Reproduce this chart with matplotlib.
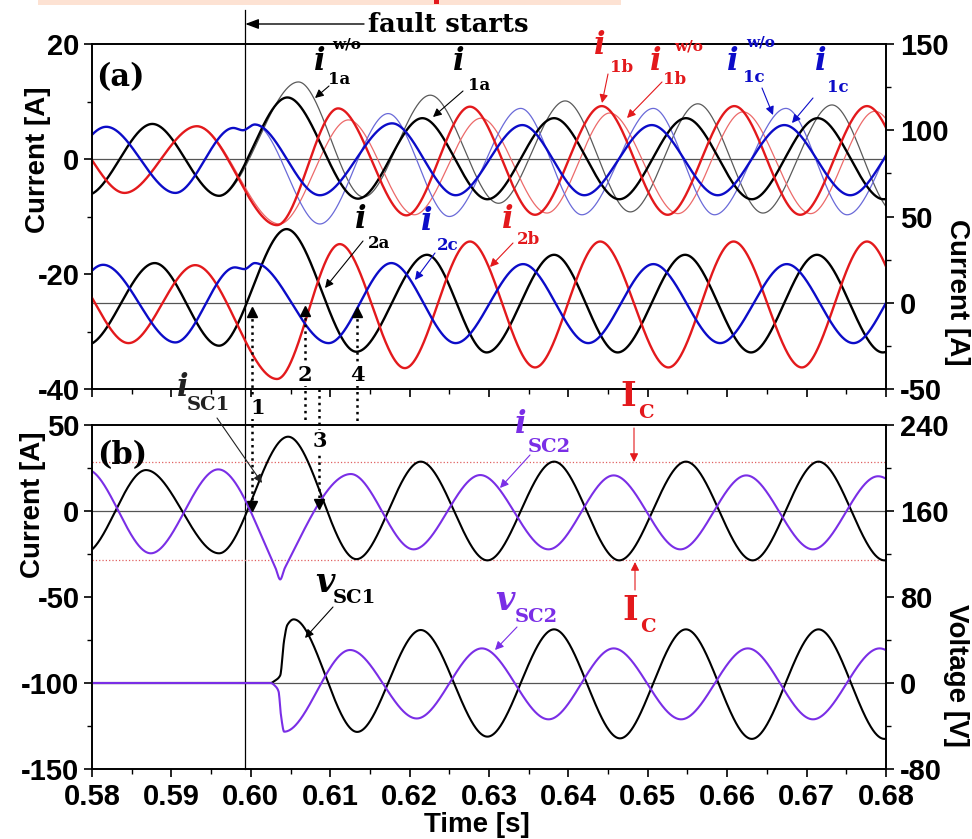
import numpy as np
import matplotlib
matplotlib.use("Agg")
import matplotlib.pyplot as plt
from matplotlib import transforms
from matplotlib.lines import Line2D
from matplotlib.patches import Rectangle, FancyArrowPatch
from matplotlib.ticker import MultipleLocator

plt.rcParams["axes.unicode_minus"] = False

# ---- waveform extrema (time [s], value) ----
# panel (a), left axis: stage-1 currents
i1a_t = [0.5793, 0.5876, 0.5960, 0.6046, 0.6135, 0.6216, 0.6298, 0.6382, 0.6464, 0.6548, 0.6631, 0.6714, 0.6797, 0.688]
i1a_v = [-6.3, 6.1, -6.4, 10.7, -6.9, 7.1, -7.0, 7.1, -7.0, 7.1, -7.0, 7.1, -7.0, 7.1]
i1a_wo_t = [0.5960, 0.6060, 0.6142, 0.6226, 0.6312, 0.6396, 0.6478, 0.6563, 0.6645, 0.6732, 0.6812]
i1a_wo_v = [-6.4, 13.4, -6.6, 11.1, -7.7, 10.1, -9.2, 9.6, -9.4, 9.4, -9.4]

i1b_t = [0.5758, 0.5841, 0.5932, 0.6033, 0.6110, 0.6196, 0.6276, 0.6358, 0.6442, 0.6525, 0.6609, 0.6692, 0.6776, 0.686]
i1b_v = [5.7, -5.9, 5.7, -11.5, 8.8, -9.8, 9.1, -9.7, 9.2, -9.7, 9.2, -9.7, 9.2, -9.7]
i1b_wo_t = [0.5932, 0.6036, 0.6123, 0.6206, 0.6290, 0.6373, 0.6452, 0.6538, 0.6620, 0.6705, 0.6786, 0.687]
i1b_wo_v = [5.7, -11.3, 6.8, -9.7, 7.1, -9.4, 8.0, -9.5, 8.2, -9.5, 8.3, -9.5]

i1c_t = [0.5735, 0.5818, 0.5905, 0.5978, 0.5990, 0.6005, 0.6087, 0.6178, 0.6258, 0.6342, 0.6420,
         0.6505, 0.6588, 0.6672, 0.6755, 0.6838]
i1c_v = [-5.9, 5.6, -5.9, 5.4, 5.0, 6.0, -6.3, 6.2, -6.3, 5.9, -6.3, 5.9, -6.3, 5.9, -6.3, 5.9]
i1c_wo_t = [0.6005, 0.6087, 0.6173, 0.6250, 0.6340, 0.6417, 0.6507, 0.6584, 0.6674, 0.6751, 0.684]
i1c_wo_v = [6.0, -11.3, 7.9, -10.0, 8.8, -9.7, 8.8, -9.7, 8.8, -9.7, 8.8]

# panel (a), right axis: stage-2 currents
i2a_t = [0.5793, 0.5879, 0.5960, 0.6045, 0.6133, 0.6222, 0.6297, 0.6382, 0.6462, 0.6547, 0.6630, 0.6713, 0.6796, 0.688]
i2a_v = [-24.5, 23.0, -24.9, 42.7, -28.4, 27.8, -28.8, 27.8, -28.8, 27.8, -28.8, 27.8, -28.8, 27.8]
i2b_t = [0.5763, 0.5846, 0.5930, 0.6033, 0.6112, 0.6194, 0.6276, 0.6358, 0.6440, 0.6526, 0.6608, 0.6694, 0.6776, 0.686]
i2b_v = [21.8, -23.4, 21.8, -44.2, 34.0, -37.9, 35.5, -37.5, 35.5, -37.5, 35.5, -37.5, 35.5, -37.5]
i2c_t = [0.5731, 0.5814, 0.5905, 0.5980, 0.5992, 0.6005, 0.6098, 0.6177, 0.6258, 0.6343, 0.6425,
         0.6507, 0.6591, 0.6675, 0.6759, 0.684]
i2c_v = [-23.0, 22.0, -23.0, 20.5, 19.5, 23.0, -23.4, 23.0, -23.4, 22.4, -23.4, 22.4, -23.4, 22.4, -23.4, 22.4]

# panel (b), left axis: supercapacitor currents
isc1_t = [0.5790, 0.5868, 0.5960, 0.6047, 0.6133, 0.6214, 0.6298, 0.6382, 0.6464, 0.6548, 0.6632, 0.6715, 0.6798, 0.688]
isc1_v = [-24.6, 23.8, -24.6, 43.2, -28.0, 28.7, -28.7, 28.7, -28.7, 28.7, -28.7, 28.7, -28.7, 28.7]
isc2_t = [0.5793, 0.5874, 0.5959, 0.6031, 0.6037, 0.6043, 0.6126, 0.6205, 0.6289, 0.6375, 0.6457,
          0.6541, 0.6624, 0.6708, 0.6790, 0.688]
isc2_v = [24.2, -24.6, 24.2, -33.0, -39.8, -33.0, 21.5, -22.3, 20.9, -22.3, 20.7, -22.3, 20.7, -22.3, 20.2, -22.3]

# panel (b), right axis: supercapacitor voltages
vsc1_t = [0.575, 0.6025, 0.6030, 0.6037, 0.6042, 0.6046, 0.6054, 0.6134, 0.6214, 0.6298, 0.6382,
          0.6465, 0.6548, 0.6631, 0.6715, 0.6798, 0.688]
vsc1_v = [0.0, 0.0, 2.0, 7.0, 40.0, 54.0, 59.2, -45.5, 49.3, -49.9, 49.9, -51.5, 49.9, -52.0, 49.9, -52.0, 50.0]
vsc2_t = [0.575, 0.6025, 0.6031, 0.6035, 0.6038, 0.6042, 0.6125, 0.6209, 0.6291, 0.6375, 0.6457,
          0.6542, 0.6626, 0.6708, 0.6792, 0.6875]
vsc2_v = [0.0, 0.0, -3.0, -8.0, -30.0, -45.3, 30.7, -33.0, 32.2, -33.8, 32.2, -33.8, 32.2, -33.8, 32.2, -33.8]

i_c = 28.5
t_fault = 0.5993
marker_times = [0.6002, 0.6068, 0.6086, 0.6134]

BLACK = "#000000"
RED = "#e3191c"
BLUE = "#0c0cc8"
PURPLE = "#7a2ee6"


def pchip(xk, yk, x):
    """monotone cubic through the read points"""
    xk = np.asarray(xk, float)
    yk = np.asarray(yk, float)
    h = np.diff(xk)
    d = np.diff(yk) / h
    m = np.zeros_like(yk)
    for k in range(1, len(xk) - 1):
        if d[k - 1] * d[k] > 0:
            w1 = 2 * h[k] + h[k - 1]
            w2 = h[k] + 2 * h[k - 1]
            m[k] = (w1 + w2) / (w1 / d[k - 1] + w2 / d[k])
    idx = np.clip(np.searchsorted(xk, x) - 1, 0, len(xk) - 2)
    s = (x - xk[idx]) / h[idx]
    h00 = 2 * s**3 - 3 * s**2 + 1
    h10 = s**3 - 2 * s**2 + s
    h01 = -2 * s**3 + 3 * s**2
    h11 = s**3 - s**2
    return h00 * yk[idx] + h10 * h[idx] * m[idx] + h01 * yk[idx + 1] + h11 * h[idx] * m[idx + 1]


def trace(ax, tk, vk, **kw):
    t = np.linspace(max(tk[0], 0.58), min(tk[-1], 0.68), 2500)
    ax.plot(t, pchip(tk, vk, t), **kw)


W, H = 972, 839
fig = plt.figure(figsize=(W / 100, H / 100), dpi=100)


def fp(x, y):
    return (x / W, 1 - y / H)


SANS = "Liberation Sans"
SERIF = "DejaVu Serif"

ax1 = fig.add_axes([92 / W, 1 - 389 / H, 794 / W, 345 / H])
ax1r = ax1.twinx()
ax2 = fig.add_axes([92 / W, 1 - 769 / H, 794 / W, 344 / H])
ax2r = ax2.twinx()

ax1.set_ylim(-40, 20)
ax1r.set_ylim(-50, 150)
ax2.set_ylim(-150, 50)
ax2r.set_ylim(-80, 240)
for a in (ax1, ax2):
    a.set_xlim(0.58, 0.68)

# reference lines
ax1.axhline(0, color="#555555", lw=0.9, zorder=1)
ax1r.axhline(0, color="#555555", lw=0.9, zorder=1)
ax2.axhline(0, color="#555555", lw=0.9, zorder=1)
ax2.axhline(-100, color="#555555", lw=0.9, zorder=1)
ax2.axhline(i_c, color="#e06060", lw=0.9, ls=":", zorder=1)
ax2.axhline(-i_c, color="#e06060", lw=0.9, ls=":", zorder=1)

# panel (a)
trace(ax1, i1a_wo_t, i1a_wo_v, color="#5a5a5a", lw=0.9)
trace(ax1, i1b_wo_t, i1b_wo_v, color="#ec6a6a", lw=0.9)
trace(ax1, i1c_wo_t, i1c_wo_v, color="#6a6ad8", lw=0.9)
trace(ax1, i1a_t, i1a_v, color=BLACK, lw=1.7)
trace(ax1, i1b_t, i1b_v, color=RED, lw=1.7)
trace(ax1, i1c_t, i1c_v, color=BLUE, lw=1.7)
trace(ax1r, i2a_t, i2a_v, color=BLACK, lw=1.7)
trace(ax1r, i2b_t, i2b_v, color=RED, lw=1.7)
trace(ax1r, i2c_t, i2c_v, color=BLUE, lw=1.7)

# panel (b)
trace(ax2, isc1_t, isc1_v, color=BLACK, lw=1.5)
trace(ax2, isc2_t, isc2_v, color=PURPLE, lw=1.5)
trace(ax2r, vsc1_t, vsc1_v, color=BLACK, lw=1.5)
trace(ax2r, vsc2_t, vsc2_v, color=PURPLE, lw=1.5)

# ticks and axis labels
tick_font = dict(family=SANS, weight="bold", size=21)
for a, major, minor in ((ax1, 20, 10), (ax1r, 50, 25), (ax2, 50, 25), (ax2r, 80, 40)):
    a.yaxis.set_major_locator(MultipleLocator(major))
    a.yaxis.set_minor_locator(MultipleLocator(minor))
    a.tick_params(axis="y", which="major", direction="out", length=6, width=1.2, pad=3)
    a.tick_params(axis="y", which="minor", direction="out", length=3.5, width=1.0)
    for lab in a.get_yticklabels():
        lab.set_fontproperties(tick_font)
    for sp in a.spines.values():
        sp.set_linewidth(1.2)
for a in (ax1, ax2):
    a.xaxis.set_major_locator(MultipleLocator(0.01))
    a.xaxis.set_minor_locator(MultipleLocator(0.005))
    a.tick_params(axis="x", which="major", direction="out", length=6, width=1.2, pad=4)
    a.tick_params(axis="x", which="minor", direction="out", length=3.5, width=1.0)
ax1.tick_params(axis="x", labelbottom=False)
ax2.set_xticks(np.round(np.arange(0.58, 0.6801, 0.01), 2))
ax2.set_xticklabels([f"{v:.2f}" for v in np.arange(0.58, 0.6801, 0.01)], fontproperties=tick_font)
ax1r.tick_params(axis="y", pad=4)
ax2r.tick_params(axis="y", pad=4)

lab_font = dict(family=SANS, weight="bold", size=20)
ax1.set_ylabel("Current [A]", va="center", **lab_font)
ax1.yaxis.set_label_coords(-0.068, 0.664)
ax1r.set_ylabel("Current [A]", rotation=270, va="center", **lab_font)
ax1r.yaxis.set_label_coords(1.089, 0.281)
ax2.set_ylabel("Current [A]", va="center", **lab_font)
ax2.yaxis.set_label_coords(-0.074, 0.767)
ax2r.set_ylabel("Voltage [V]", rotation=270, va="center", **lab_font)
ax2r.yaxis.set_label_coords(1.088, 0.273)
ax2.set_xlabel("Time [s]", va="center", **lab_font)
ax2.xaxis.set_label_coords((477 - 92) / 794, (769 - 825) / 344)

# fault start line across both panels
ax1.axvline(t_fault, ymin=0, ymax=(389 - 10) / 345, color="k", lw=0.9, clip_on=False, zorder=0.5)
ax2.axvline(t_fault, ymin=0, ymax=(769 - 389) / 344, color="k", lw=0.9, clip_on=False, zorder=0.5)
fig.text(*fp(368, 24), "fault starts", family=SERIF, weight="bold", size=18.5, ha="left", va="center")
tb = transforms.blended_transform_factory(ax1.transData, fig.transFigure)
ax1.annotate("", xy=(t_fault, fp(0, 24)[1]), xycoords=tb,
             xytext=fp(364, 24), textcoords="figure fraction",
             arrowprops=dict(arrowstyle="-|>,head_length=0.8,head_width=0.3", color="k", lw=1.0,
                             shrinkA=0, shrinkB=0))

fig.text(*fp(120, 78), "(a)", family=SERIF, weight="bold", size=22, ha="center", va="center")
fig.text(*fp(122, 456), "(b)", family=SERIF, weight="bold", size=22, ha="center", va="center")

# dotted markers 1-4
dotted = [(marker_times[0], 312, 506), (marker_times[1], 311, 424), (marker_times[2], 389, 504), (marker_times[3], 312, 424)]
for t, y0, y1 in dotted:
    fig.add_artist(Line2D([t, t], [fp(0, y0)[1], fp(0, y1)[1]], transform=tb, color="k", lw=1.8, ls=":"))
for t, y, m in ((marker_times[0], 312, "^"), (marker_times[1], 311, "^"), (marker_times[3], 312, "^"),
                (marker_times[0], 506, "v"), (marker_times[2], 504, "v")):
    fig.add_artist(Line2D([t], [fp(0, y)[1]], transform=tb, marker=m, ms=7, color="k", lw=0))
num_box = dict(facecolor="white", edgecolor="none", pad=0.5)
for txt, x, y in (("1", 258, 408), ("2", 305, 375), ("3", 320, 441), ("4", 357, 375)):
    fig.text(*fp(x, y), txt, family=SERIF, weight="bold", size=15, ha="center", va="center", bbox=num_box)


# curve labels: letter, letter xy, subscript, subscript xy, colour, pointer start, pointer tip
def curve_label(letter, lxy, sub, sxy, color, a0, a1, sup=None, uxy=None, lsize=22, ssize=12):
    fig.text(*fp(*lxy), letter, family=SERIF, weight="bold", style="italic", size=lsize,
             color=color, ha="center", va="center")
    fig.text(*fp(*sxy), sub, family=SERIF, weight="bold", size=ssize, color=color, ha="left", va="center")
    if sup:
        fig.text(*fp(*uxy), sup, family=SERIF, weight="bold", size=11, color=color, ha="left", va="center")
    fig.add_artist(FancyArrowPatch(
        fp(*a0), fp(*a1), transform=fig.transFigure, arrowstyle="-|>,head_length=5,head_width=2.5",
        color=color, lw=0.8, shrinkA=0, shrinkB=0))


curve_label("i", (320, 61), "1a", (328, 80), BLACK, (329, 86), (315, 98), sup="w/o", uxy=(332, 44))
curve_label("i", (459, 61), "1a", (468, 86), BLACK, (463, 91), (433, 117))
curve_label("i", (600, 45), "1b", (610, 67), RED, (608, 74), (602, 103))
curve_label("i", (656, 61), "1b", (663, 80), RED, (662, 82), (627, 118), sup="w/o", uxy=(674, 46))
curve_label("i", (733, 61), "1c", (743, 77), BLUE, (762, 88), (773, 115), sup="w/o", uxy=(746, 42))
curve_label("i", (821, 61), "1c", (827, 87), BLUE, (813, 98), (792, 123))
curve_label("i", (361, 220), "2a", (368, 243), BLACK, (363, 241), (325, 288))
curve_label("i", (427, 221), "2c", (437, 245), BLUE, (435, 253), (415, 280))
curve_label("i", (508, 220), "2b", (517, 240), RED, (513, 243), (490, 267))
curve_label("i", (183, 388), "SC1", (187, 405), "#222222", (217, 418), (262, 483), ssize=14)
curve_label("i", (521, 424), "SC2", (528, 447), PURPLE, (530, 455), (500, 488), ssize=14)
curve_label("v", (325, 582), "SC1", (333, 598), BLACK, (333, 607), (305, 638), lsize=24, ssize=14)
curve_label("v", (505, 601), "SC2", (515, 617), PURPLE, (517, 627), (495, 650), lsize=24, ssize=14)

# I_C marks
for ixy, cxy, a0, a1 in (((628, 396), (638, 413), (634, 428), (634, 462)),
                         ((630, 611), (640, 627), (635, 590), (635, 562))):
    fig.text(*fp(*ixy), "I", family=SERIF, weight="bold", size=24, color=RED, ha="center", va="center")
    fig.text(*fp(*cxy), "C", family=SERIF, weight="bold", size=14, color=RED, ha="left", va="center")
    fig.add_artist(FancyArrowPatch(
        fp(*a0), fp(*a1), transform=fig.transFigure, arrowstyle="-|>,head_length=5,head_width=2.5",
        color=RED, lw=0.8, shrinkA=0, shrinkB=0))

# cropped caption strip at the very top
fig.add_artist(Rectangle(fp(38, 5), 583 / W, 5 / H, transform=fig.transFigure, color="#fde2d3", lw=0))
fig.add_artist(Rectangle(fp(434, 4), 5 / W, 4 / H, transform=fig.transFigure, color=RED, lw=0))

fig.savefig("out.png", dpi=100)
